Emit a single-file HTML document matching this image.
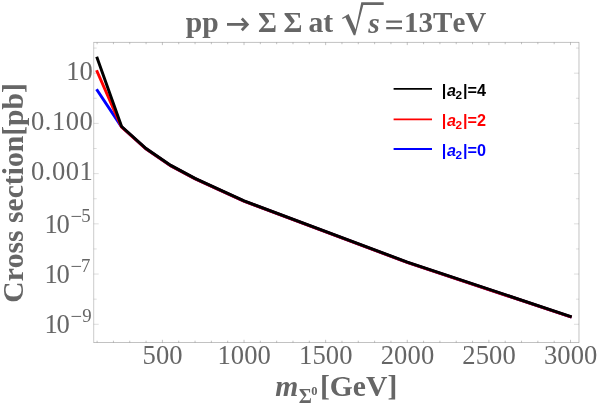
<!DOCTYPE html>
<html><head><meta charset="utf-8"><title>plot</title>
<style>html,body{margin:0;padding:0;background:#fff}svg{display:block;will-change:transform}text{font-family:"Liberation Serif",serif;font-kerning:none}.s{font-family:"Liberation Sans",sans-serif;font-weight:bold}</style></head><body>
<svg width="598" height="404" viewBox="0 0 598 404">
<rect width="598" height="404" fill="#fff"/>
<path d="M97.10 342.5v-1.8M97.10 42.42v1.8M113.43 342.5v-1.8M113.43 42.42v1.8M129.75 342.5v-1.8M129.75 42.42v1.8M146.08 342.5v-1.8M146.08 42.42v1.8M162.40 342.5v-2.7M162.40 42.42v2.7M178.72 342.5v-1.8M178.72 42.42v1.8M195.05 342.5v-1.8M195.05 42.42v1.8M211.37 342.5v-1.8M211.37 42.42v1.8M227.70 342.5v-1.8M227.70 42.42v1.8M244.02 342.5v-2.7M244.02 42.42v2.7M260.34 342.5v-1.8M260.34 42.42v1.8M276.67 342.5v-1.8M276.67 42.42v1.8M292.99 342.5v-1.8M292.99 42.42v1.8M309.32 342.5v-1.8M309.32 42.42v1.8M325.64 342.5v-2.7M325.64 42.42v2.7M341.96 342.5v-1.8M341.96 42.42v1.8M358.29 342.5v-1.8M358.29 42.42v1.8M374.61 342.5v-1.8M374.61 42.42v1.8M390.94 342.5v-1.8M390.94 42.42v1.8M407.26 342.5v-2.7M407.26 42.42v2.7M423.58 342.5v-1.8M423.58 42.42v1.8M439.91 342.5v-1.8M439.91 42.42v1.8M456.23 342.5v-1.8M456.23 42.42v1.8M472.56 342.5v-1.8M472.56 42.42v1.8M488.88 342.5v-2.7M488.88 42.42v2.7M505.20 342.5v-1.8M505.20 42.42v1.8M521.53 342.5v-1.8M521.53 42.42v1.8M537.85 342.5v-1.8M537.85 42.42v1.8M554.18 342.5v-1.8M554.18 42.42v1.8M570.50 342.5v-2.7M570.50 42.42v2.7" stroke="#666" stroke-width="0.4" fill="none"/>
<path d="M93.7 324.28h5.0M578.98 324.28h-5.0M93.7 299.17h3.0M578.98 299.17h-3.0M93.7 274.06h5.0M578.98 274.06h-5.0M93.7 248.95h3.0M578.98 248.95h-3.0M93.7 223.84h5.0M578.98 223.84h-5.0M93.7 198.73h3.0M578.98 198.73h-3.0M93.7 173.62h5.0M578.98 173.62h-5.0M93.7 148.51h3.0M578.98 148.51h-3.0M93.7 123.40h5.0M578.98 123.40h-5.0M93.7 98.29h3.0M578.98 98.29h-3.0M93.7 73.18h5.0M578.98 73.18h-5.0M93.7 48.07h3.0M578.98 48.07h-3.0" stroke="#666" stroke-width="0.22" fill="none"/>
<path d="M93.5 42.42H579.1800000000001M93.5 342.5H579.1800000000001M578.98 42.42V342.5" fill="none" stroke="#666" stroke-width="0.4"/>
<path d="M93.7 42.42V342.5" fill="none" stroke="#666" stroke-width="0.34"/>
<path d="M96.7 89.0 L121.6 126.5 L146.1 148.5 L170.8 165.4 L195.0 178.4 L219.5 189.6 L244.1 200.9 L407.3 262.1 L571.7 316.8" transform="translate(-0.15 0.25)" stroke="#0000ff" stroke-width="2.95" fill="none" stroke-linejoin="miter" stroke-linecap="butt"/>
<path d="M96.7 70.0 L121.6 126.5 L146.1 148.5 L170.8 165.4 L195.0 178.4 L219.5 189.6 L244.1 200.9 L407.3 262.1 L571.7 316.8" transform="translate(-0.15 0.25)" stroke="#ff0000" stroke-width="2.95" fill="none" stroke-linejoin="miter" stroke-linecap="butt"/>
<path d="M96.7 56.7 L121.6 126.5 L146.1 148.5 L170.8 165.4 L195.0 178.4 L219.5 189.6 L244.1 200.9 L407.3 262.1 L571.7 316.8" stroke="#000000" stroke-width="2.95" fill="none" stroke-linejoin="miter" stroke-linecap="butt"/>
<g fill="#666666" font-weight="bold" font-size="29.6">
<text x="185.7" y="32">pp</text>
<text x="257.95" y="32" font-size="29">Σ</text>
<text x="283.55" y="32" font-size="29">Σ</text>
<text x="308.5" y="32">at</text>
<text x="368.3" y="33" font-style="italic">s</text>
<text x="403.95" y="32" font-size="29.1">13TeV</text>
<path d="M227.0 23.0H246.6V25.8H227.0Z"/>
<path d="M241.8 18.5L247.3 24.4L241.8 30.3" fill="none" stroke="#666666" stroke-width="2.8" stroke-linejoin="miter" stroke-linecap="butt"/>
<path d="M386.2 20.5H402.0V22.8H386.2ZM386.2 26.9H402.0V29.2H386.2Z"/>
<path d="M342.0 17.9 L348.6 13.9 L355.6 29.6 L361.3 2.3 L383.7 2.3 L383.7 4.9 L363.3 4.9 L355.3 35.3 L353.7 35.3 L345.5 17.4 L342.6 19.1 Z"/>
</g>
<g fill="#666666" font-size="26.6" text-anchor="middle" letter-spacing="0.1">
<text x="162.6" y="364">500</text>
<text x="244.2" y="364">1000</text>
<text x="325.8" y="364">1500</text>
<text x="407.5" y="364">2000</text>
<text x="489.1" y="364">2500</text>
<text x="570.7" y="364">3000</text>
</g>
<g fill="#666666" font-size="26.6" text-anchor="end">
<text x="92.8" y="80">10</text>
<text x="93.4" y="130" letter-spacing="0.5">0.100</text>
<text x="93.4" y="180" letter-spacing="0.5">0.001</text>
</g>
<g fill="#666666">
<text x="44.5" y="233" font-size="26.6" letter-spacing="-1.2">10</text>
<text x="70.5" y="223" font-size="20.5">−</text>
<text x="81.2" y="222" font-size="18.8">5</text>
<text x="44.5" y="283" font-size="26.6" letter-spacing="-1.2">10</text>
<text x="70.5" y="273" font-size="20.5">−</text>
<text x="80.9" y="272" font-size="18.8">7</text>
<text x="44.5" y="333" font-size="26.6" letter-spacing="-1.2">10</text>
<text x="70.5" y="323" font-size="20.5">−</text>
<text x="82.2" y="322" font-size="18.8">9</text>
</g>
<text transform="translate(23.3 302.7) rotate(-90)" fill="#666666" font-weight="bold" font-size="29.6">Cross section[pb]</text>
<g fill="#666666" font-weight="bold">
<text x="275.3" y="396" font-size="29.6" font-style="italic">m</text>
<text x="298.8" y="403" font-size="20">Σ</text>
<text x="311.2" y="395" font-size="12.5">0</text>
<text x="320.0" y="396" font-size="29.6">[GeV]</text>
</g>
<path d="M393.6 88.9H432.0" stroke="#000000" stroke-width="1.8"/>
<g class="s" fill="#000000" font-size="16.2"><text class="s" x="441.7" y="96">|</text><text class="s" x="446.9" y="96" font-style="italic">a</text><text class="s" x="455.4" y="99" font-size="11.8">2</text><text class="s" x="463.1" y="96">|=4</text></g>
<path d="M393.6 119.3H432.0" stroke="#ff0000" stroke-width="1.8"/>
<g class="s" fill="#ff0000" font-size="16.2"><text class="s" x="441.7" y="126">|</text><text class="s" x="446.9" y="126" font-style="italic">a</text><text class="s" x="455.4" y="129" font-size="11.8">2</text><text class="s" x="463.1" y="126">|=2</text></g>
<path d="M393.6 149.0H432.0" stroke="#0000ff" stroke-width="1.8"/>
<g class="s" fill="#0000ff" font-size="16.2"><text class="s" x="441.7" y="156">|</text><text class="s" x="446.9" y="156" font-style="italic">a</text><text class="s" x="455.4" y="159" font-size="11.8">2</text><text class="s" x="463.1" y="156">|=0</text></g>
</svg></body></html>
